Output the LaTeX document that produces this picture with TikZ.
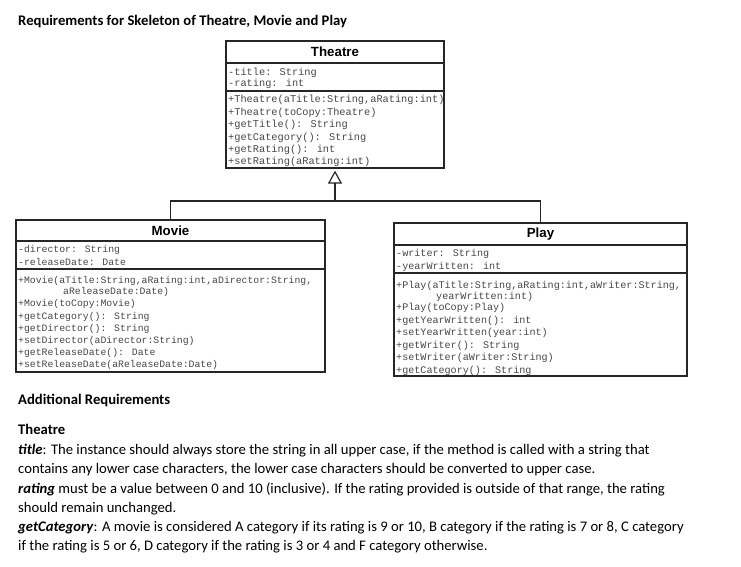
\documentclass[tikz,border=0pt]{standalone}
\usepackage{fontspec}
\setmainfont{Carlito}
\newfontfamily\umlmono{Liberation Mono}
\newfontfamily\umlsans{Liberation Sans}
\usetikzlibrary{arrows.meta}
\begin{document}
\begin{tikzpicture}[x=1pt,y=-1pt,
  umlbox/.style={draw=black!85, line width=1.2pt, inner sep=0pt},
  umldiv/.style={draw=black!85, line width=1.2pt},
  umltitle/.style={inner sep=0pt, font=\umlsans\bfseries\fontsize{13.3}{13}\selectfont},
  monoT/.style={anchor=base west, inner sep=0pt, text=black!72, font=\umlmono\fontsize{10.3}{12}\selectfont},
  monoM/.style={anchor=base west, inner sep=0pt, text=black!72, font=\umlmono\fontsize{9.8}{12}\selectfont},
  monoP/.style={anchor=base west, inner sep=0pt, text=black!72, font=\umlmono\fontsize{10.1}{12}\selectfont},
  doctext/.style={anchor=base west, inner sep=0pt, font=\fontsize{14.67}{16}\selectfont},
  docbold/.style={doctext, font=\bfseries\fontsize{14.67}{16}\selectfont},
  umlline/.style={draw=black!85, line width=1.2pt}
]
\useasboundingbox (0,0) rectangle (741,566);
\fill[white] (0,0) rectangle (741,566);

\node[docbold] (head) at (18,25) {Requirements for Skeleton of Theatre, Movie and Play};

% Theatre
\node[umlbox, minimum width=218pt, minimum height=127pt] (theatre) at (335,104.5) {};
\draw[umldiv] (theatre.west |- 0,63) -- (theatre.east |- 0,63);
\draw[umldiv] (theatre.west |- 0,91) -- (theatre.east |- 0,91);
\node[umltitle] (theatreT) at (335,52) {Theatre};
\node[monoT] (ta1) at (228,75) {-title: String};
\node[monoT] (ta2) at (228,86.5) {-rating: int};
\node[monoT] (tm1) at (228,102.5) {+Theatre(aTitle:String,aRating:int)};
\node[monoT] (tm2) at (228,115.5) {+Theatre(toCopy:Theatre)};
\node[monoT] (tm3) at (228,127.5) {+getTitle(): String};
\node[monoT] (tm4) at (228,140.5) {+getCategory(): String};
\node[monoT] (tm5) at (228,152.5) {+getRating(): int};
\node[monoT] (tm6) at (228,164.5) {+setRating(aRating:int)};

% Movie
\node[umlbox, minimum width=309pt, minimum height=152pt] (movie) at (170.5,296) {};
\draw[umldiv] (movie.west |- 0,241) -- (movie.east |- 0,241);
\draw[umldiv] (movie.west |- 0,269) -- (movie.east |- 0,269);
\node[umltitle] (movieT) at (170.5,230.5) {Movie};
\node[monoM] (ma1) at (18,252) {-director: String};
\node[monoM] (ma2) at (18,265) {-releaseDate: Date};
\node[monoM] (mm1) at (18,283.5) {+Movie(aTitle:String,aRating:int,aDirector:String,};
\node[monoM] (mm1b) at (63,294.5) {aReleaseDate:Date)};
\node[monoM] (mm2) at (18,306.5) {+Movie(toCopy:Movie)};
\node[monoM] (mm3) at (18,319.5) {+getCategory(): String};
\node[monoM] (mm4) at (18,331.5) {+getDirector(): String};
\node[monoM] (mm5) at (18,343.5) {+setDirector(aDirector:String)};
\node[monoM] (mm6) at (18,355.5) {+getReleaseDate(): Date};
\node[monoM] (mm7) at (18,367.5) {+setReleaseDate(aReleaseDate:Date)};

% Play
\node[umlbox, minimum width=293pt, minimum height=153pt] (play) at (540.5,299.5) {};
\draw[umldiv] (play.west |- 0,245) -- (play.east |- 0,245);
\draw[umldiv] (play.west |- 0,273) -- (play.east |- 0,273);
\node[umltitle] (playT) at (540.5,234) {Play};
\node[monoP] (pa1) at (396,256.5) {-writer: String};
\node[monoP] (pa2) at (396,269.5) {-yearWritten: int};
\node[monoP] (pm1) at (396,288.5) {+Play(aTitle:String,aRating:int,aWriter:String,};
\node[monoP] (pm1b) at (436,299.5) {yearWritten:int)};
\node[monoP] (pm2) at (396,310.5) {+Play(toCopy:Play)};
\node[monoP] (pm3) at (396,323.5) {+getYearWritten(): int};
\node[monoP] (pm4) at (396,335.5) {+setYearWritten(year:int)};
\node[monoP] (pm5) at (396,348.5) {+getWriter(): String};
\node[monoP] (pm6) at (396,360.5) {+setWriter(aWriter:String)};
\node[monoP] (pm7) at (396,373) {+getCategory(): String};

% inheritance
\coordinate (j) at (335,201);
\draw[umlline] (movie.north) |- (j) -| (play.north);
\draw[umlline, -{Triangle[open, length=13pt, width=14pt]}, shorten >=2pt] (j) -- (theatre.south);

% text
\node[docbold] (addreq) at (18,404) {Additional Requirements};
\node[docbold] (thh) at (18,434) {Theatre};
\node[doctext] (l1) at (18,454) {\textbf{\textit{title}}: The instance should always store the string in all upper case, if the method is called with a string that};
\node[doctext] (l2) at (18,473) {contains any lower case characters, the lower case characters should be converted to upper case.};
\node[doctext] (l3) at (18,493) {\textbf{\textit{rating}} must be a value between 0 and 10 (inclusive). If the rating provided is outside of that range, the rating};
\node[doctext] (l4) at (18,512) {should remain unchanged.};
\node[doctext] (l5) at (18,531) {\textbf{\textit{getCategory}}: A movie is considered A category if its rating is 9 or 10, B category if the rating is 7 or 8, C category};
\node[doctext] (l6) at (18,550) {if the rating is 5 or 6, D category if the rating is 3 or 4 and F category otherwise.};
\end{tikzpicture}
\end{document}
